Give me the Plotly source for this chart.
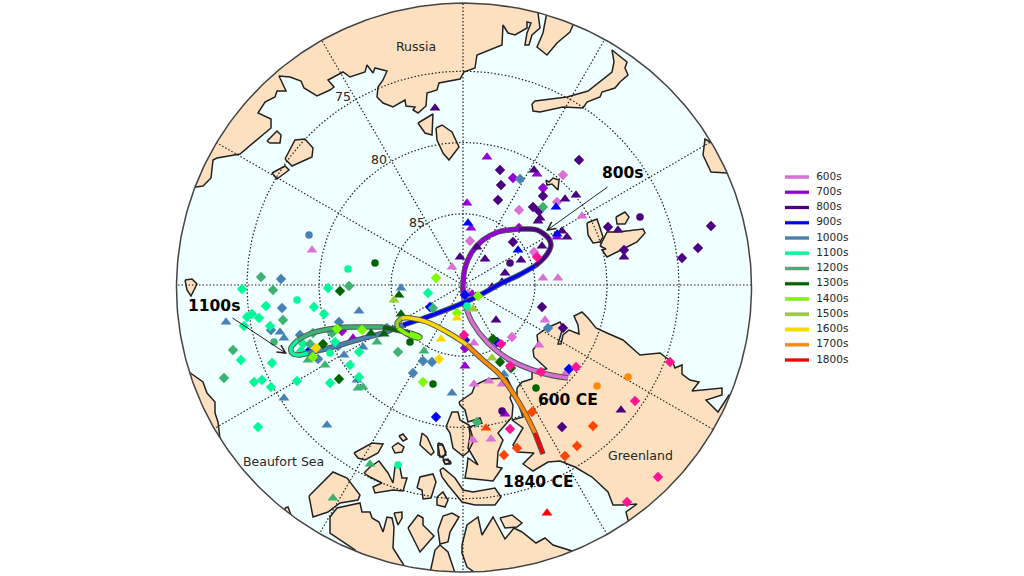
import numpy as np
import plotly.graph_objects as go

# all positions are projected map units, north pole at (0,0)

# ---- legend / decades
decades = ['600s', '700s', '800s', '900s', '1000s', '1100s', '1200s', '1300s', '1400s', '1500s', '1600s', '1700s', '1800s']
colors = ['#da70d6', '#9400d3', '#4b0082', '#0000ff', '#4682b4', '#00fa9a', '#3cb371', '#006400', '#7cfc00', '#9acd32', '#ffd700', '#ff8c00', '#ff0000']
pink = '#ff1493'
orangered = '#ff4500'

# ---- pole path per century
track_600 = [(105, -93), (79, -88), (47, -75), (24, -57), (9, -37), (3, -22), (0, -8)]
track_700 = [(0, -8), (0, 0), (2, 17), (9, 33), (20, 45), (35, 53), (46, 55), (56, 56)]
track_800 = [(56, 56), (66, 56), (74, 55), (81, 51), (86, 46), (88, 40), (86, 34), (81, 27), (72, 19)]
track_900 = [(72, 19), (56, 10), (39, 2), (15, -11), (0, -18), (-36, -32), (-60, -40)]
track_1000 = [(-60, -40), (-80, -48), (-106, -55), (-126, -61), (-155, -68)]
track_1100 = [(-155, -68), (-165, -70), (-171, -68), (-172, -63), (-165, -55)]
track_1200 = [(-165, -55), (-151, -48), (-126, -43), (-103, -42), (-80, -42)]
track_1300 = [(-80, -42), (-66, -45), (-53, -48)]
track_1400 = [(-53, -48), (-43, -52), (-45, -53), (-56, -49), (-65, -43)]
track_1500 = [(-65, -43), (-66, -38), (-61, -33)]
track_1600 = [(-61, -33), (-53, -33), (-36, -37), (-16, -47), (0, -57), (4, -60)]
track_1700 = [(4, -60), (20, -75), (37, -90), (50, -108), (62, -128), (72, -148)]
track_1800 = [(72, -148), (80, -169)]
tracks = [track_600, track_700, track_800, track_900, track_1000, track_1100, track_1200,
          track_1300, track_1400, track_1500, track_1600, track_1700, track_1800]

# ---- site markers per decade
dia_600 = [(7, 44), (100, 110), (94, 83), (56, 75), (71, 33), (49, -52)]
tri_600 = [(-11, 18), (-151, 35), (119, 69), (80, 7), (95, 7), (82, -35), (76, -60), (11, -58), (11, -99),
           (26, -96), (39, -99), (103, -88), (28, -154), (10, -155), (5, -8)]
dia_700 = [(50, 107), (80, 97), (56, 57), (2, -63), (-121, -46)]
tri_700 = [(4, 82), (24, 128), (74, 111), (94, 48), (8, 57), (2, -81), (42, -129), (-110, -53), (9, -9)]
dia_800 = [(37, 115), (38, 100), (35, 85), (116, 125), (80, 89), (70, 78), (76, 74), (50, 43), (145, 58),
           (161, 35), (248, 59), (235, 37), (219, 27), (79, -22), (100, -43), (99, -142)]
tri_800 = [(-28, 177), (-3, 28), (71, 115), (113, 90), (102, 86), (77, 67), (75, 64), (99, 54), (104, 48), (79, 39),
           (22, 26), (58, 25), (42, 12), (39, 3), (29, -2), (14, 38), (155, 55), (161, 28), (33, -35), (158, -125)]
cir_800 = [(47, 22), (177, 68), (39, -126)]
dia_900 = [(2, -10), (-33, -22), (2, -55), (-27, -132), (34, -57), (106, -84), (-155, -67)]
tri_900 = [(5, 62), (93, 78), (55, 35), (94, 51)]
dia_1000 = [(57, 106), (-182, 6), (-181, -23), (-192, -45), (-124, -37), (-163, -50), (-125, -61), (-145, -74),
            (-76, -43), (-50, -88), (-40, -76), (-31, -77), (85, -43)]
tri_1000 = [(-62, -3), (-104, -26), (-237, -37), (-183, -47), (-179, -53), (-106, -95), (-179, -113), (-136, -140),
            (-11, -108), (-100, -62), (-119, -70), (41, -89)]
cir_1000 = [(-154, 50)]
dia_1100 = [(-221, -4), (-135, -3), (-35, -8), (-197, -21), (-149, -22), (-204, -33), (-211, -29), (-216, -32),
            (-219, -41), (-193, -41), (-139, -29), (-222, -75), (-191, -78), (-209, -97), (-201, -95), (-192, -102),
            (-166, -96), (-133, -98), (-104, -92), (-113, -80), (-104, -67), (-205, -142), (-160, -59), (-128, -57), (-162, -66)]
cir_1100 = [(-115, 16), (-166, -15), (-133, -68), (-65, -180), (4, -21)]
dia_1200 = [(-202, 8), (-190, -5), (-114, -1), (-180, -35), (-230, -65), (-239, -93), (-65, -67), (80, 78),
            (-150, -48), (-131, -48), (-153, -59), (-30, -23), (14, -137)]
tri_1200 = [(-105, -103), (-100, -102), (-86, -57), (-39, -66), (-93, -179), (-130, -213), (-138, -80), (-155, -75)]
cir_1200 = [(-189, -57)]
dia_1300 = [(-123, -6), (-124, -94), (-140, -59), (30, -54), (37, -77), (48, -83)]
tri_1300 = [(-64, -10), (-62, -29), (-92, -48), (-79, -49)]
cir_1300 = [(-88, 22), (-53, -57), (-30, -99), (73, -103)]
dia_1400 = [(-27, 7), (-40, -97), (-126, -44), (-101, -45), (-150, -72), (-6, -28), (15, -11)]
tri_1500 = [(-69, -15), (29, -73), (10, -24)]
dia_1600 = [(-24, -74), (-147, -63)]
tri_1600 = [(-22, -54), (-6, -33)]
cir_1700 = [(165, -92), (134, -101)]
dia_late = [(69, -127), (130, -141), (114, -161), (102, -171), (54, -163), (41, -170)]
tri_late = [(23, -143)]
tri_1800 = [(84, -228)]
dia_pink = [(74, 28), (1, -50), (38, -59), (47, -81), (78, -87), (113, -82), (207, -77), (172, -116), (47, -144),
            (195, -192), (164, -217)]

# (decade index or colour, marker symbol, points)
marker_groups = [
    (0, 'diamond', dia_600), (0, 'triangle-up', tri_600),
    (1, 'diamond', dia_700), (1, 'triangle-up', tri_700),
    (2, 'diamond', dia_800), (2, 'triangle-up', tri_800), (2, 'circle', cir_800),
    (3, 'diamond', dia_900), (3, 'triangle-up', tri_900),
    (4, 'diamond', dia_1000), (4, 'triangle-up', tri_1000), (4, 'circle', cir_1000),
    (5, 'diamond', dia_1100), (5, 'circle', cir_1100),
    (6, 'diamond', dia_1200), (6, 'triangle-up', tri_1200), (6, 'circle', cir_1200),
    (7, 'diamond', dia_1300), (7, 'triangle-up', tri_1300), (7, 'circle', cir_1300),
    (8, 'diamond', dia_1400),
    (9, 'triangle-up', tri_1500),
    (10, 'diamond', dia_1600), (10, 'triangle-up', tri_1600),
    (11, 'circle', cir_1700),
    (12, 'triangle-up', tri_1800),
]

# ---- coastlines (closed outside the map edge, the mask trims them)
russia_w = [(-267, 98), (-260, 99), (-252, 107), (-250, 125), (-246, 127), (-223, 131), (-192, 157), (-192, 166),
            (-205, 172), (-198, 183), (-188, 188), (-186, 194), (-177, 194), (-184, 209), (-173, 208), (-162, 204),
            (-159, 197), (-146, 189), (-133, 195), (-129, 198), (-135, 205), (-120, 213), (-113, 208), (-98, 213),
            (-96, 220), (-90, 212), (-88, 217), (-76, 214), (-80, 205), (-85, 198), (-86, 188), (-80, 182), (-70, 178),
            (-58, 185), (-57, 179), (-48, 178), (-50, 175), (-45, 172), (-37, 179), (-36, 192), (-26, 195), (-24, 202),
            (-3, 206), (0, 211), (1, 213), (12, 217), (14, 230), (39, 240), (40, 260), (45, 252), (52, 250), (64, 257),
            (64, 263), (68, 262), (64, 252), (62, 240), (66, 240), (69, 250), (77, 257), (75, 272), (80, 300),
            (-300, 300), (-300, 98)]
russia_e = [(83, 268), (80, 252), (74, 238), (84, 230), (94, 242), (107, 253), (110, 260), (130, 290), (90, 300)]
siberia_1 = [(-196, 144), (-186, 154), (-182, 150), (-183, 142), (-193, 142)]
siberia_2 = [(-178, 126), (-168, 145), (-158, 146), (-150, 137), (-151, 128), (-171, 119)]
siberia_3 = [(-191, 112), (-178, 119), (-174, 115), (-186, 106)]
wrangel_1 = [(-45, 162), (-30, 171), (-31, 150), (-38, 152)]
wrangel_2 = [(-27, 157), (-21, 160), (-11, 153), (-4, 138), (-14, 125), (-20, 132), (-26, 145)]
west_bit = [(-278, 5), (-271, 6), (-266, 1), (-272, -11), (-276, -5)]
novaya = [(69, 181), (72, 184), (104, 188), (125, 194), (149, 213), (151, 223), (149, 235), (164, 223), (162, 217),
          (165, 210), (157, 203), (152, 197), (139, 193), (137, 188), (124, 183), (120, 177), (100, 178), (77, 173), (70, 174)]
east_edge = [(240, 130), (242, 146), (270, 130), (280, 100), (264, 112), (248, 113)]
franz = [(83, 105), (86, 103), (90, 107), (96, 105), (95, 95), (92, 98), (89, 101), (84, 100)]
sval_1 = [(124, 62), (134, 66), (140, 48), (137, 43), (130, 42), (125, 50)]
sval_2 = [(153, 68), (162, 73), (166, 68), (162, 61), (154, 61)]
sval_3 = [(137, 39), (144, 53), (155, 53), (180, 56), (182, 52), (174, 43), (162, 37), (144, 28), (139, 35), (143, 36)]
greenland = [(54, -103), (59, -97), (69, -94), (69, -85), (84, -84), (77, -78), (71, -72), (70, -65), (75, -58), (74, -50),
             (84, -43), (97, -37), (100, -42), (95, -59), (98, -59), (100, -50), (106, -45), (116, -49), (115, -40),
             (111, -31), (119, -27), (125, -33), (133, -43), (144, -48), (160, -55), (177, -70), (197, -68), (210, -78),
             (212, -83), (219, -80), (219, -89), (227, -95), (236, -97), (229, -106), (259, -103), (259, -110), (243, -115),
             (255, -127), (266, -110), (320, -120), (320, -320), (170, -320), (165, -235), (163, -227), (174, -219),
             (160, -220), (150, -220), (145, -207), (129, -192), (112, -182), (97, -176), (85, -177), (70, -186), (60, -179),
             (71, -168), (55, -167), (50, -160), (60, -143), (49, -135), (60, -132), (54, -115)]
ellesmere = [(-4, -117), (9, -108), (12, -100), (25, -94), (44, -93), (50, -105), (47, -113), (50, -120), (49, -132),
             (35, -148), (40, -155), (35, -167), (34, -182), (39, -183), (30, -196), (2, -193), (4, -182), (5, -173),
             (15, -180), (5, -163), (7, -150), (6, -142), (19, -138), (17, -133), (5, -137), (2, -125), (-3, -120)]
axel = [(-17, -142), (-11, -127), (-5, -127), (-3, -135), (6, -140), (9, -150), (10, -157), (5, -167), (0, -171), (-10, -163), (-13, -148)]
arch_1 = [(-25, -160), (-20, -160), (-17, -170), (-23, -172)]
arch_2 = [(-20, -175), (-15, -174), (-13, -179), (-18, -179)]
long_isl = [(-23, -185), (-20, -183), (-8, -193), (0, -205), (10, -207), (32, -203), (38, -212), (32, -220), (12, -220), (-1, -217), (-15, -200), (-21, -192)]
arch_3 = [(-26, -212), (-20, -207), (-15, -215), (-18, -222), (-26, -220)]
isl_a = [(-109, -168), (-91, -158), (-80, -159), (-85, -168), (-98, -175), (-105, -173)]
isl_b = [(-64, -151), (-60, -149), (-56, -154), (-60, -156)]
isl_c = [(-71, -162), (-65, -158), (-59, -162), (-61, -167), (-68, -168)]
isl_d = [(-41, -148), (-36, -152), (-29, -167), (-32, -170), (-43, -160)]
isl_e = [(-25, -158), (-21, -159), (-17, -167), (-20, -173), (-25, -170)]
isl_f = [(-20, -174), (-13, -176), (-12, -178), (-18, -179)]
isl_g = [(-99, -188), (-93, -182), (-84, -176), (-75, -188), (-70, -198), (-68, -182), (-64, -178), (-61, -193), (-56, -193),
         (-60, -206), (-70, -205), (-88, -208), (-90, -202), (-81, -198), (-93, -192)]
isl_h = [(-46, -203), (-43, -192), (-30, -189), (-27, -197), (-32, -213), (-40, -214), (-41, -205)]
isl_l = [(-55, -243), (-45, -230), (-40, -233), (-40, -240), (-29, -251), (-43, -267), (-48, -257)]
isl_m = [(-25, -245), (-20, -231), (-11, -228), (-4, -232), (-13, -247), (-15, -257), (-23, -259)]
isl_n = [(-33, -288), (-28, -265), (-23, -260), (-15, -267), (-8, -288), (-8, -300), (-33, -300)]
banks = [(-154, -211), (-130, -187), (-116, -193), (-103, -210), (-105, -215), (-123, -218), (-135, -227), (-150, -232)]
canada = [(-133, -232), (-126, -223), (-103, -218), (-101, -227), (-93, -227), (-91, -233), (-84, -237), (-80, -247), (-76, -232),
          (-71, -233), (-69, -242), (-70, -263), (-58, -282), (-53, -300), (-106, -300), (-108, -265), (-133, -248), (-133, -243)]
canada_bit = [(-69, -228), (-61, -227), (-61, -233), (-65, -240)]
edge_bit = [(-178, -223), (-175, -222), (-172, -230), (-178, -227)]
alaska = [(-274, -87), (-260, -97), (-256, -108), (-248, -117), (-248, -128), (-245, -137), (-243, -154), (-300, -154), (-300, -87)]
baffin = [(-1, -260), (4, -240), (15, -232), (19, -250), (30, -232), (42, -254), (51, -243), (59, -247), (73, -258), (82, -253),
          (90, -260), (109, -266), (130, -300), (30, -300), (4, -282), (-1, -268)]
baffin_bit = [(37, -233), (49, -230), (59, -238), (54, -242), (42, -243)]
land = [russia_w, russia_e, siberia_1, siberia_2, siberia_3, wrangel_1, wrangel_2, west_bit, novaya, east_edge, franz,
        sval_1, sval_2, sval_3, greenland, ellesmere, axel, arch_1, arch_2, long_isl, arch_3, isl_a, isl_b, isl_c, isl_d,
        isl_e, isl_f, isl_g, isl_h, isl_l, isl_m, isl_n, banks, canada, canada_bit, edge_bit, alaska, baffin, baffin_bit]

parallels = [72, 144, 216]  # 85, 80, 75 N
meridians = np.arange(0, 360, 30)
edge_cx, edge_cy, edge_rx, edge_ry = 1, -2.6, 287.5, 284.5
aspect = 0.99
xr = [-463, 561]
yr = [-291, 285]

ocean = '#f0ffff'
land_col = '#fde0bf'
ink = '#262626'


def xy(pts):
    return [p[0] for p in pts], [p[1] for p in pts]


def add_markers(fig, color, symbol, pts):
    x, y = xy(pts)
    size = {'circle': 7.5, 'diamond': 8, 'triangle-up': 9.5}[symbol]
    fig.add_trace(go.Scatter(x=x, y=y, mode='markers', hoverinfo='skip', showlegend=False,
                             marker=dict(symbol=symbol, size=size, color=color, line=dict(width=0))))


t = np.linspace(0, 2 * np.pi, 361)
fig = go.Figure()

# ocean
fig.add_trace(go.Scatter(x=edge_cx + edge_rx * np.cos(t), y=edge_cy + edge_ry * np.sin(t), mode='lines', fill='toself',
                         fillcolor=ocean, line=dict(width=0), hoverinfo='skip', showlegend=False))

# land
lx, ly = [], []
for poly in land:
    x, y = xy(poly + poly[:1])
    lx += x + [None]
    ly += y + [None]
fig.add_trace(go.Scatter(x=lx, y=ly, mode='lines', fill='toself', fillcolor=land_col, hoverinfo='skip', showlegend=False,
                         line=dict(color='#222222', width=1.5)))

# graticule
for r in parallels:
    fig.add_trace(go.Scatter(x=r * np.cos(t), y=aspect * r * np.sin(t), mode='lines', hoverinfo='skip', showlegend=False,
                             line=dict(color='#222222', width=1.2, dash='1.5px,2px')))
for m in meridians:
    a = np.deg2rad(m)
    fig.add_trace(go.Scatter(x=[0, 300 * np.cos(a)], y=[0, 300 * np.sin(a)], mode='lines', hoverinfo='skip', showlegend=False,
                             line=dict(color='#222222', width=1.2, dash='1.5px,2px')))

# white mask outside the map edge, hole wound the other way round
mx = [-600, 700, 700, -600, -600, None] + list(edge_cx + edge_rx * np.cos(t))
my = [-400, -400, 400, 400, -400, None] + list(edge_cy - edge_ry * np.sin(t))
fig.add_trace(go.Scatter(x=mx, y=my, mode='lines', fill='toself', fillcolor='white', line=dict(width=0),
                         hoverinfo='skip', showlegend=False))
fig.add_trace(go.Scatter(x=edge_cx + edge_rx * np.cos(t), y=edge_cy + edge_ry * np.sin(t), mode='lines', hoverinfo='skip',
                         showlegend=False, line=dict(color='#444444', width=1.5)))

# sites and path, decade by decade so later ones sit on top
for i, dec in enumerate(decades):
    for idx, symbol, pts in marker_groups:
        if idx == i:
            add_markers(fig, colors[i], symbol, pts)
    x, y = xy(tracks[i])
    fig.add_trace(go.Scatter(x=x, y=y, mode='lines', hoverinfo='skip', showlegend=False,
                             line=dict(color='#555555', width=5.5, shape='spline')))
    fig.add_trace(go.Scatter(x=x, y=y, mode='lines', name=dec, hoverinfo='skip', showlegend=False,
                             line=dict(color=colors[i], width=3.5, shape='spline')))
add_markers(fig, orangered, 'diamond', dia_late)
add_markers(fig, orangered, 'triangle-up', tri_late)
add_markers(fig, pink, 'diamond', dia_pink)

# hand made legend, plotly's own can't get the rows this tight
for i, dec in enumerate(decades):
    fig.add_trace(go.Scatter(x=[0, 1], y=[i, i], mode='lines', xaxis='x2', yaxis='y2', hoverinfo='skip', showlegend=False,
                             line=dict(color='#c8c8c8', width=4)))
    fig.add_trace(go.Scatter(x=[0, 1], y=[i, i], mode='lines', xaxis='x2', yaxis='y2', hoverinfo='skip', showlegend=False,
                             line=dict(color=colors[i], width=3)))
fig.add_trace(go.Scatter(x=[1.3] * len(decades), y=list(range(len(decades))), text=decades, mode='text', xaxis='x2', yaxis='y2',
                         textposition='middle right', cliponaxis=False, hoverinfo='skip', showlegend=False,
                         textfont=dict(family='DejaVu Sans', size=10.5, color=ink)))

labels = [('Russia', -47, 239), ('Beaufort Sea', -180, -176), ('Greenland', 177, -170), ('75', -120, 189), ('80', -84, 126), ('85', -46, 63)]
bold_labels = [('600 CE', 105, -115), ('1840 CE', 75, -197), ('800s', 160, 112), ('1100s', -249, -21)]
annots = []
for txt, x, y in labels:
    annots.append(dict(text=txt, x=x, y=y, xref='x', yref='y', showarrow=False, font=dict(family='DejaVu Sans', size=12.5, color=ink)))
for txt, x, y in bold_labels:
    annots.append(dict(text='<b>' + txt + '</b>', x=x, y=y, xref='x', yref='y', showarrow=False,
                       font=dict(family='DejaVu Sans', size=15.5, color='black')))
annots.append(dict(text='', x=83, y=54, ax=146, ay=99, xref='x', yref='y', axref='x', ayref='y', showarrow=True,
                   arrowhead=5, arrowsize=1.6, arrowwidth=1, arrowcolor='#222222'))
annots.append(dict(text='', x=-176, y=-69, ax=-232, ay=-32, xref='x', yref='y', axref='x', ayref='y', showarrow=True,
                   arrowhead=5, arrowsize=1.6, arrowwidth=1, arrowcolor='#222222'))

fig.update_layout(
    width=1024, height=576, margin=dict(l=0, r=0, t=0, b=0), paper_bgcolor='white', plot_bgcolor='white', showlegend=False,
    annotations=annots,
    xaxis=dict(range=xr, visible=False, domain=[0, 1]),
    yaxis=dict(range=yr, visible=False, domain=[0, 1]),
    xaxis2=dict(range=[0, 3], visible=False, domain=[785 / 1024, 857 / 1024], anchor='y2'),
    yaxis2=dict(range=[12.5, -0.5], visible=False, domain=[0.3618, 0.7059], anchor='x2'),
)

# page margin would push the chart 8px off
fig.write_html("out.html", config={'displayModeBar': False},
               post_script="document.body.style.margin='0';document.body.style.overflow='hidden';")
